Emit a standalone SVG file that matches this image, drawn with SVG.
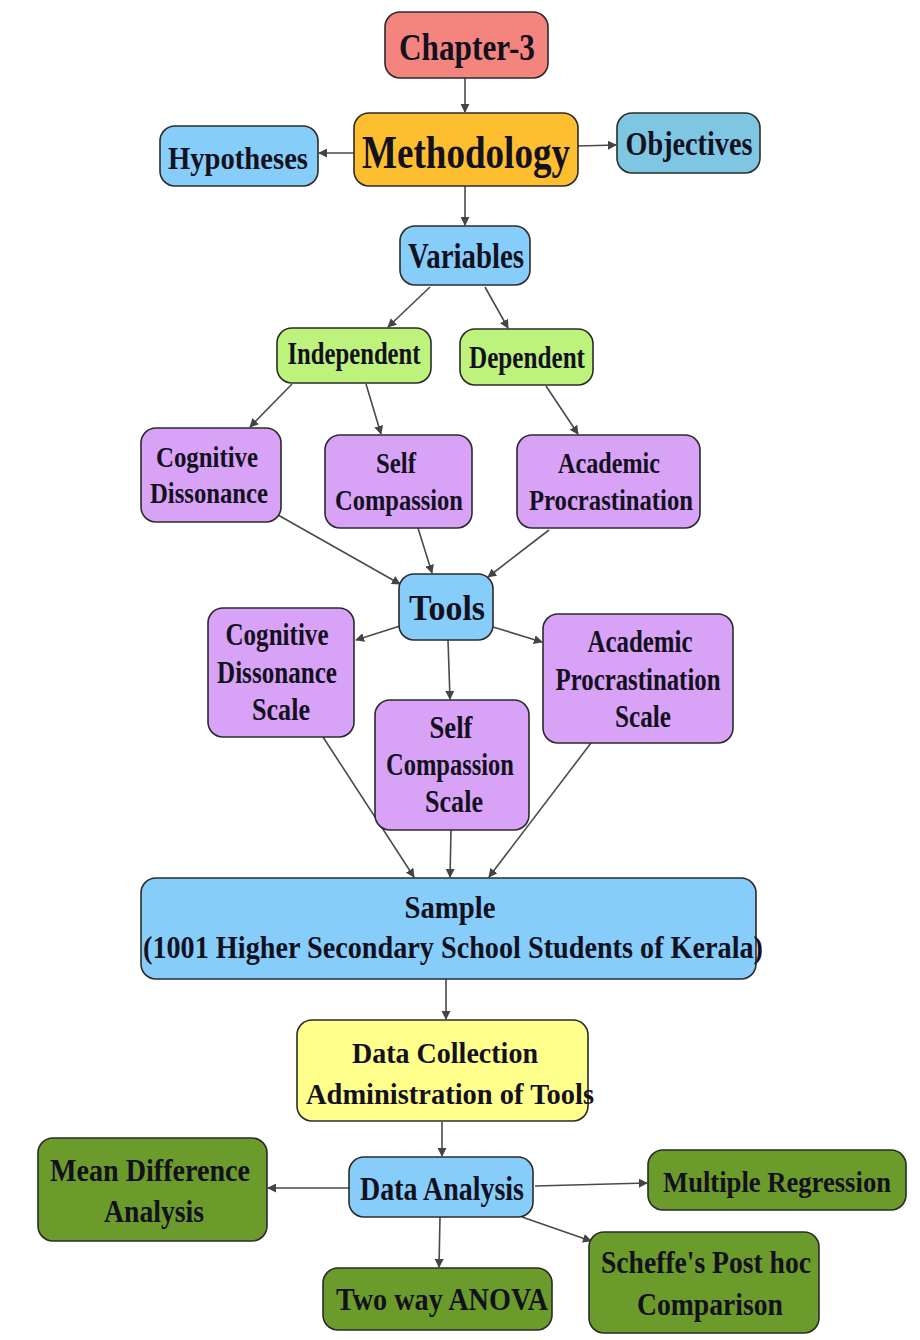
<svg xmlns="http://www.w3.org/2000/svg" width="920" height="1340" viewBox="0 0 920 1340">
  <defs>
    <marker id="arrow" viewBox="0 0 10 10" refX="9" refY="5" markerWidth="9" markerHeight="9" markerUnits="userSpaceOnUse" orient="auto">
      <path d="M0,0 L10,5 L0,10 Z" fill="#444"/>
    </marker>
    <style>
      .box { stroke: #2b2b2b; stroke-width: 1.6; }
      .t { font-family: "Liberation Serif", "Times New Roman", serif; font-weight: bold; fill: #14111f; text-anchor: middle; }
      .edge { stroke: #4a4a4a; stroke-width: 1.6; fill: none; marker-end: url(#arrow); }
      .red { fill: #f4847e; }
      .orange { fill: #fdbe30; }
      .blue { fill: #87cdfa; }
      .sky { fill: #7ec6e2; }
      .lime { fill: #bdf27d; }
      .violet { fill: #d8a2f6; }
      .yellow { fill: #ffff8c; }
      .olive { fill: #6b9b2b; }
    </style>
  </defs>
  <rect width="920" height="1340" fill="#ffffff"/>

  <g id="connectors">
    <line class="edge" x1="465" y1="78" x2="465" y2="112"/>
    <line class="edge" x1="354" y1="153" x2="319" y2="153"/>
    <line class="edge" x1="578" y1="146" x2="616" y2="145"/>
    <line class="edge" x1="465" y1="186" x2="465" y2="225"/>
    <line class="edge" x1="430" y1="287" x2="388" y2="327"/>
    <line class="edge" x1="485" y1="287" x2="508" y2="328"/>
    <line class="edge" x1="292" y1="384" x2="250" y2="427"/>
    <line class="edge" x1="366" y1="384" x2="381" y2="434"/>
    <line class="edge" x1="546" y1="386" x2="578" y2="434"/>
    <line class="edge" x1="278" y1="515" x2="400" y2="584"/>
    <line class="edge" x1="418" y1="528" x2="432" y2="573"/>
    <line class="edge" x1="549" y1="530" x2="488" y2="577"/>
    <line class="edge" x1="400" y1="626" x2="356" y2="640"/>
    <line class="edge" x1="448" y1="640" x2="450" y2="699"/>
    <line class="edge" x1="493" y1="627" x2="542" y2="642"/>
    <line class="edge" x1="323" y1="737" x2="414" y2="877"/>
    <line class="edge" x1="451" y1="830" x2="450" y2="877"/>
    <line class="edge" x1="591" y1="743" x2="489" y2="877"/>
    <line class="edge" x1="446" y1="979" x2="446" y2="1019"/>
    <line class="edge" x1="442" y1="1122" x2="442" y2="1156"/>
    <line class="edge" x1="352" y1="1188" x2="268" y2="1188"/>
    <line class="edge" x1="535" y1="1186" x2="647" y2="1183"/>
    <line class="edge" x1="440" y1="1217" x2="439" y2="1267"/>
    <line class="edge" x1="522" y1="1217" x2="591" y2="1241"/>
  </g>

  <g id="chapter">
    <rect class="box red" x="385" y="12" width="163" height="66" rx="15"/>
    <text class="t" x="467" y="60" font-size="38" textLength="136" lengthAdjust="spacingAndGlyphs">Chapter-3</text>
  </g>

  <g id="methodology">
    <rect class="box orange" x="354" y="113" width="224" height="73" rx="15"/>
    <text class="t" x="466" y="168" font-size="46" textLength="208" lengthAdjust="spacingAndGlyphs">Methodology</text>
  </g>

  <g id="hypotheses">
    <rect class="box blue" x="160" y="126" width="158" height="60" rx="15"/>
    <text class="t" x="238" y="169" font-size="32" textLength="140" lengthAdjust="spacingAndGlyphs">Hypotheses</text>
  </g>

  <g id="objectives">
    <rect class="box sky" x="617" y="113" width="143" height="60" rx="15"/>
    <text class="t" x="689" y="155" font-size="34" textLength="127" lengthAdjust="spacingAndGlyphs">Objectives</text>
  </g>

  <g id="variables">
    <rect class="box blue" x="400" y="226" width="130" height="59" rx="15"/>
    <text class="t" x="466" y="268" font-size="36" textLength="116" lengthAdjust="spacingAndGlyphs">Variables</text>
  </g>

  <g id="independent">
    <rect class="box lime" x="277" y="328" width="154" height="55" rx="15"/>
    <text class="t" x="354" y="364" font-size="32" textLength="133" lengthAdjust="spacingAndGlyphs">Independent</text>
  </g>

  <g id="dependent">
    <rect class="box lime" x="460" y="329" width="133" height="56" rx="15"/>
    <text class="t" x="527" y="368" font-size="32" textLength="116" lengthAdjust="spacingAndGlyphs">Dependent</text>
  </g>

  <g id="cognitive-dissonance">
    <rect class="box violet" x="141" y="428" width="140" height="94" rx="15"/>
    <text class="t" x="207" y="467" font-size="30" textLength="102" lengthAdjust="spacingAndGlyphs">Cognitive</text>
    <text class="t" x="209" y="503" font-size="30" textLength="118" lengthAdjust="spacingAndGlyphs">Dissonance</text>
  </g>

  <g id="self-compassion">
    <rect class="box violet" x="325" y="435" width="147" height="93" rx="15"/>
    <text class="t" x="396" y="473" font-size="30" textLength="40" lengthAdjust="spacingAndGlyphs">Self</text>
    <text class="t" x="399" y="510" font-size="30" textLength="128" lengthAdjust="spacingAndGlyphs">Compassion</text>
  </g>

  <g id="academic-procrastination">
    <rect class="box violet" x="517" y="435" width="183" height="93" rx="15"/>
    <text class="t" x="609" y="473" font-size="30" textLength="102" lengthAdjust="spacingAndGlyphs">Academic</text>
    <text class="t" x="611" y="510" font-size="30" textLength="164" lengthAdjust="spacingAndGlyphs">Procrastination</text>
  </g>

  <g id="tools">
    <rect class="box blue" x="399" y="574" width="94" height="66" rx="15"/>
    <text class="t" x="447" y="620" font-size="36" textLength="76" lengthAdjust="spacingAndGlyphs">Tools</text>
  </g>

  <g id="cd-scale">
    <rect class="box violet" x="208" y="608" width="146" height="129" rx="15"/>
    <text class="t" x="277" y="645" font-size="31" textLength="103" lengthAdjust="spacingAndGlyphs">Cognitive</text>
    <text class="t" x="277" y="683" font-size="31" textLength="120" lengthAdjust="spacingAndGlyphs">Dissonance</text>
    <text class="t" x="281" y="720" font-size="31" textLength="58" lengthAdjust="spacingAndGlyphs">Scale</text>
  </g>

  <g id="sc-scale">
    <rect class="box violet" x="375" y="700" width="154" height="130" rx="15"/>
    <text class="t" x="451" y="738" font-size="31" textLength="43" lengthAdjust="spacingAndGlyphs">Self</text>
    <text class="t" x="450" y="775" font-size="31" textLength="128" lengthAdjust="spacingAndGlyphs">Compassion</text>
    <text class="t" x="454" y="812" font-size="31" textLength="58" lengthAdjust="spacingAndGlyphs">Scale</text>
  </g>

  <g id="ap-scale">
    <rect class="box violet" x="543" y="614" width="190" height="129" rx="15"/>
    <text class="t" x="640" y="652" font-size="31" textLength="105" lengthAdjust="spacingAndGlyphs">Academic</text>
    <text class="t" x="638" y="690" font-size="31" textLength="165" lengthAdjust="spacingAndGlyphs">Procrastination</text>
    <text class="t" x="643" y="727" font-size="31" textLength="56" lengthAdjust="spacingAndGlyphs">Scale</text>
  </g>

  <g id="sample">
    <rect class="box blue" x="141" y="878" width="615" height="101" rx="15"/>
    <text class="t" x="450" y="918" font-size="32" textLength="91" lengthAdjust="spacingAndGlyphs">Sample</text>
    <text class="t" x="453" y="958" font-size="32" textLength="620" lengthAdjust="spacingAndGlyphs">(1001 Higher Secondary School Students of Kerala)</text>
  </g>

  <g id="data-collection">
    <rect class="box yellow" x="297" y="1020" width="291" height="101" rx="15"/>
    <text class="t" x="445" y="1063" font-size="30" textLength="186" lengthAdjust="spacingAndGlyphs">Data Collection</text>
    <text class="t" x="450" y="1104" font-size="30" textLength="288" lengthAdjust="spacingAndGlyphs">Administration of Tools</text>
  </g>

  <g id="data-analysis">
    <rect class="box blue" x="349" y="1157" width="184" height="60" rx="15"/>
    <text class="t" x="442" y="1200" font-size="33" textLength="164" lengthAdjust="spacingAndGlyphs">Data Analysis</text>
  </g>

  <g id="mean-difference">
    <rect class="box olive" x="38" y="1138" width="229" height="103" rx="15"/>
    <text class="t" x="150" y="1181" font-size="32" textLength="200" lengthAdjust="spacingAndGlyphs">Mean Difference</text>
    <text class="t" x="154" y="1222" font-size="32" textLength="100" lengthAdjust="spacingAndGlyphs">Analysis</text>
  </g>

  <g id="multiple-regression">
    <rect class="box olive" x="648" y="1150" width="258" height="60" rx="15"/>
    <text class="t" x="777" y="1192" font-size="29" textLength="228" lengthAdjust="spacingAndGlyphs">Multiple Regression</text>
  </g>

  <g id="two-way-anova">
    <rect class="box olive" x="323" y="1268" width="229" height="62" rx="15"/>
    <text class="t" x="442" y="1310" font-size="31" textLength="212" lengthAdjust="spacingAndGlyphs">Two way ANOVA</text>
  </g>

  <g id="scheffe">
    <rect class="box olive" x="589" y="1232" width="230" height="101" rx="15"/>
    <text class="t" x="706" y="1273" font-size="31" textLength="210" lengthAdjust="spacingAndGlyphs">Scheffe's Post hoc</text>
    <text class="t" x="710" y="1315" font-size="31" textLength="146" lengthAdjust="spacingAndGlyphs">Comparison</text>
  </g>
</svg>
